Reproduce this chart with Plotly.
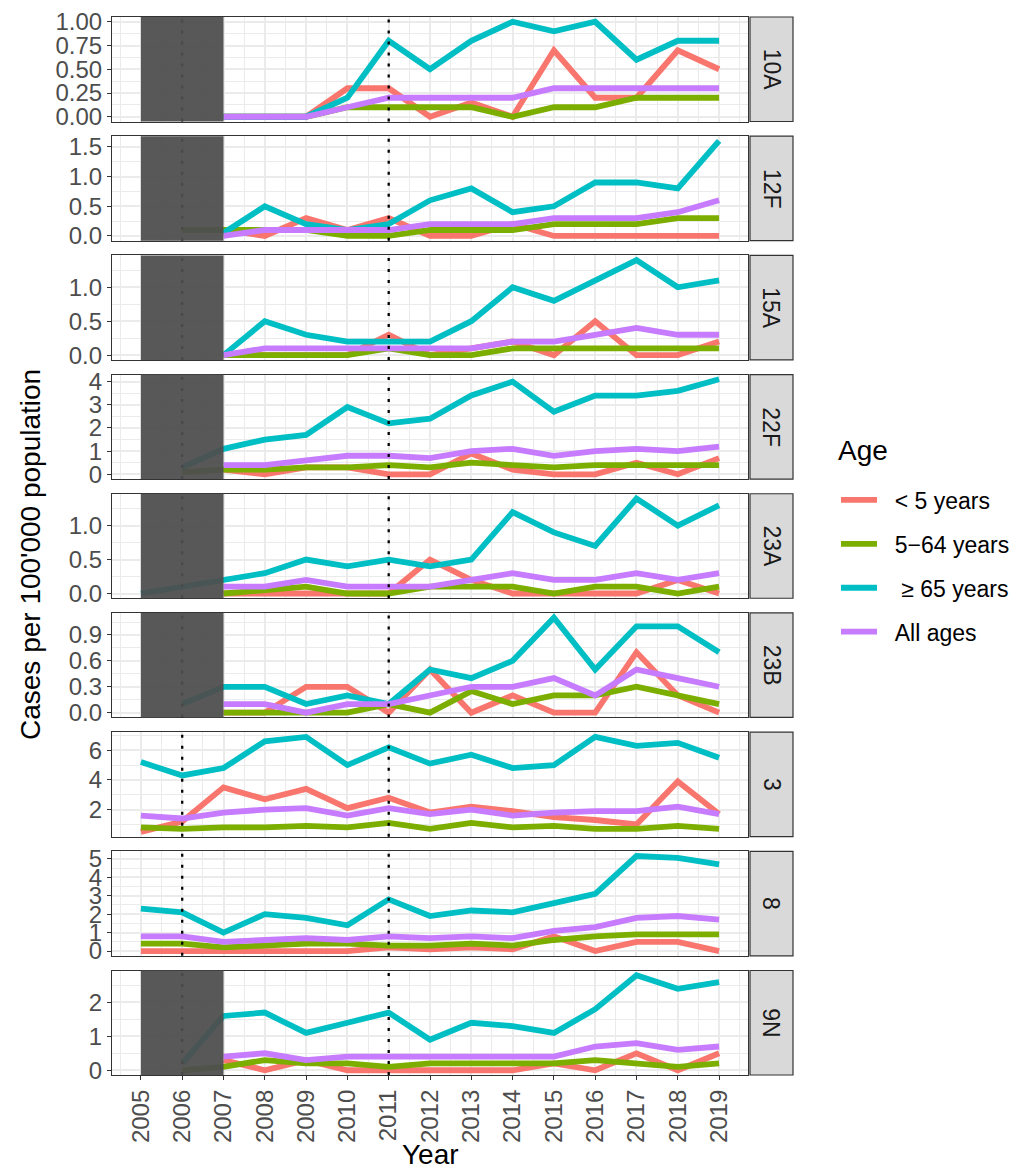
import plotly.graph_objects as go

years = list(range(2005, 2020))
N = None

serotypes = ["10A", "12F", "15A", "22F", "23A", "23B", "3", "8", "9N"]
age_groups = ["< 5 years", "5\u221264 years", " \u2265 65 years", "All ages"]
colors = ["#F8766D", "#7CAE00", "#00BFC4", "#C77CFF"]

# values per serotype, order: <5, 5-64, >=65, all ; years 2005..2019
s10A_u5  = [N, N, 0.0, 0.0, 0.0, 0.3, 0.3, 0.0, 0.15, 0.0, 0.7, 0.2, 0.2, 0.7, 0.5]
s10A_mid = [N, N, 0.0, 0.0, 0.0, 0.1, 0.1, 0.1, 0.1, 0.0, 0.1, 0.1, 0.2, 0.2, 0.2]
s10A_o65 = [N, N, 0.0, 0.0, 0.0, 0.2, 0.8, 0.5, 0.8, 1.0, 0.9, 1.0, 0.6, 0.8, 0.8]
s10A_all = [N, N, 0.0, 0.0, 0.0, 0.1, 0.2, 0.2, 0.2, 0.2, 0.3, 0.3, 0.3, 0.3, 0.3]

s12F_u5  = [N, N, 0.1, 0.0, 0.3, 0.1, 0.3, 0.0, 0.0, 0.2, 0.0, 0.0, 0.0, 0.0, 0.0]
s12F_mid = [N, 0.1, 0.1, 0.1, 0.1, 0.0, 0.0, 0.1, 0.1, 0.1, 0.2, 0.2, 0.2, 0.3, 0.3]
s12F_o65 = [N, N, 0.05, 0.5, 0.2, 0.1, 0.2, 0.6, 0.8, 0.4, 0.5, 0.9, 0.9, 0.8, 1.6]
s12F_all = [N, N, 0.0, 0.1, 0.1, 0.1, 0.1, 0.2, 0.2, 0.2, 0.3, 0.3, 0.3, 0.4, 0.6]

s15A_u5  = [N, N, 0.0, 0.0, 0.0, 0.0, 0.3, 0.0, 0.1, 0.2, 0.0, 0.5, 0.0, 0.0, 0.2]
s15A_mid = [N, N, 0.0, 0.0, 0.0, 0.0, 0.1, 0.0, 0.0, 0.1, 0.1, 0.1, 0.1, 0.1, 0.1]
s15A_o65 = [N, N, 0.0, 0.5, 0.3, 0.2, 0.2, 0.2, 0.5, 1.0, 0.8, 1.1, 1.4, 1.0, 1.1]
s15A_all = [N, N, 0.0, 0.1, 0.1, 0.1, 0.1, 0.1, 0.1, 0.2, 0.2, 0.3, 0.4, 0.3, 0.3]

s22F_u5  = [N, N, 0.2, 0.0, 0.3, 0.3, 0.0, 0.0, 0.9, 0.2, 0.0, 0.0, 0.5, 0.0, 0.7]
s22F_mid = [N, 0.1, 0.2, 0.2, 0.3, 0.3, 0.4, 0.3, 0.5, 0.4, 0.3, 0.4, 0.4, 0.4, 0.4]
s22F_o65 = [N, 0.3, 1.1, 1.5, 1.7, 2.9, 2.2, 2.4, 3.4, 4.0, 2.7, 3.4, 3.4, 3.6, 4.1]
s22F_all = [N, N, 0.4, 0.4, 0.6, 0.8, 0.8, 0.7, 1.0, 1.1, 0.8, 1.0, 1.1, 1.0, 1.2]

s23A_u5  = [N, N, 0.0, 0.0, 0.0, 0.0, 0.0, 0.5, 0.2, 0.0, 0.0, 0.0, 0.0, 0.2, 0.0]
s23A_mid = [N, N, 0.0, 0.05, 0.1, 0.0, 0.0, 0.1, 0.1, 0.1, 0.0, 0.1, 0.1, 0.0, 0.1]
s23A_o65 = [0.0, 0.1, 0.2, 0.3, 0.5, 0.4, 0.5, 0.4, 0.5, 1.2, 0.9, 0.7, 1.4, 1.0, 1.3]
s23A_all = [N, N, 0.1, 0.1, 0.2, 0.1, 0.1, 0.1, 0.2, 0.3, 0.2, 0.2, 0.3, 0.2, 0.3]

s23B_u5  = [N, N, 0.0, 0.0, 0.3, 0.3, 0.0, 0.5, 0.0, 0.2, 0.0, 0.0, 0.7, 0.2, 0.0]
s23B_mid = [N, N, 0.0, 0.0, 0.0, 0.0, 0.1, 0.0, 0.25, 0.1, 0.2, 0.2, 0.3, 0.2, 0.1]
s23B_o65 = [N, 0.1, 0.3, 0.3, 0.1, 0.2, 0.1, 0.5, 0.4, 0.6, 1.1, 0.5, 1.0, 1.0, 0.7]
s23B_all = [N, N, 0.1, 0.1, 0.0, 0.1, 0.1, 0.2, 0.3, 0.3, 0.4, 0.2, 0.5, 0.4, 0.3]

s3_u5  = [0.5, 1.2, 3.5, 2.7, 3.4, 2.1, 2.8, 1.8, 2.2, 1.9, 1.5, 1.3, 1.0, 3.9, 1.7]
s3_mid = [0.8, 0.7, 0.8, 0.8, 0.9, 0.8, 1.1, 0.7, 1.1, 0.8, 0.9, 0.7, 0.7, 0.9, 0.7]
s3_o65 = [5.2, 4.3, 4.8, 6.6, 6.9, 5.0, 6.2, 5.1, 5.7, 4.8, 5.0, 6.9, 6.3, 6.5, 5.5]
s3_all = [1.6, 1.4, 1.8, 2.0, 2.1, 1.6, 2.1, 1.7, 2.0, 1.6, 1.8, 1.9, 1.9, 2.2, 1.7]

s8_u5  = [0.0, 0.0, 0.0, 0.0, 0.0, 0.0, 0.2, 0.1, 0.2, 0.1, 0.8, 0.0, 0.5, 0.5, 0.0]
s8_mid = [0.4, 0.4, 0.2, 0.3, 0.4, 0.4, 0.3, 0.3, 0.4, 0.3, 0.6, 0.8, 0.9, 0.9, 0.9]
s8_o65 = [2.3, 2.1, 1.0, 2.0, 1.8, 1.4, 2.8, 1.9, 2.2, 2.1, 2.6, 3.1, 5.15, 5.05, 4.7]
s8_all = [0.8, 0.8, 0.5, 0.6, 0.7, 0.6, 0.8, 0.7, 0.8, 0.7, 1.1, 1.3, 1.8, 1.9, 1.7]

s9N_u5  = [N, N, 0.3, 0.0, 0.3, 0.0, 0.0, 0.0, 0.0, 0.0, 0.2, 0.0, 0.5, 0.0, 0.5]
s9N_mid = [N, 0.0, 0.1, 0.3, 0.2, 0.2, 0.1, 0.2, 0.2, 0.2, 0.2, 0.3, 0.2, 0.1, 0.2]
s9N_o65 = [N, 0.2, 1.6, 1.7, 1.1, 1.4, 1.7, 0.9, 1.4, 1.3, 1.1, 1.8, 2.8, 2.4, 2.6]
s9N_all = [N, N, 0.4, 0.5, 0.3, 0.4, 0.4, 0.4, 0.4, 0.4, 0.4, 0.7, 0.8, 0.6, 0.7]

data = {
    "10A": [s10A_u5, s10A_mid, s10A_o65, s10A_all],
    "12F": [s12F_u5, s12F_mid, s12F_o65, s12F_all],
    "15A": [s15A_u5, s15A_mid, s15A_o65, s15A_all],
    "22F": [s22F_u5, s22F_mid, s22F_o65, s22F_all],
    "23A": [s23A_u5, s23A_mid, s23A_o65, s23A_all],
    "23B": [s23B_u5, s23B_mid, s23B_o65, s23B_all],
    "3": [s3_u5, s3_mid, s3_o65, s3_all],
    "8": [s8_u5, s8_mid, s8_o65, s8_all],
    "9N": [s9N_u5, s9N_mid, s9N_o65, s9N_all],
}
shaded = {"10A", "12F", "15A", "22F", "23A", "23B", "9N"}
ytick_step = {"10A": 0.25, "12F": 0.5, "15A": 0.5, "22F": 1, "23A": 0.5,
              "23B": 0.3, "3": 2, "8": 1, "9N": 1}
ytick_fmt = {"10A": ".2f", "12F": ".1f", "15A": ".1f", "22F": "d", "23A": ".1f",
             "23B": ".1f", "3": "d", "8": "d", "9N": "d"}
vlines = [2006, 2011]

# ---- geometry (reference-page pixels; the page body adds an 8px offset) ----
OFF = 8
W, H = 1024 - OFF, 1169 - OFF
plot_l, plot_t, plot_b = 112, 17, 1075
panel_right = 748
strip_l, strip_r = 750, 793
ml, mt = plot_l - OFF, plot_t - OFF
mr = W - (strip_r - OFF)
mb = H - (plot_b - OFF)
pw = W - ml - mr
ph = H - mt - mb


def px_x(p):
    return (p - plot_l) / pw


def px_y(p):
    return 1 - (p - plot_t) / ph


xd = px_x(panel_right)
n = len(serotypes)
hp = 104.5
gap = (ph - n * hp) / (n - 1)

FONT = "Liberation Sans, Arial, Helvetica, sans-serif"
GRID = "#EBEBEB"
BORDER = "#333333"
TICKSIZE = 24

fig = go.Figure()
layout = dict(
    width=W, height=H,
    margin=dict(l=ml, r=mr, t=mt, b=mb, autoexpand=False),
    paper_bgcolor="white", plot_bgcolor="white",
    font=dict(family=FONT, color="#4D4D4D"),
    showlegend=True,
)
shapes = []
annotations = []
xr = [2004.3, 2019.7]

for i, s in enumerate(serotypes):
    k = "" if i == 0 else str(i + 1)
    top_px = plot_t + i * (hp + gap)
    bot_px = top_px + hp
    dom = [px_y(bot_px), px_y(top_px)]
    vals = [v for ser in data[s] for v in ser if v is not None]
    lo, hi = min(vals), max(vals)
    pad = 0.05 * (hi - lo)
    last = i == n - 1
    layout["xaxis" + k] = dict(
        domain=[0, xd], anchor="y" + k, range=xr, automargin=False,
        matches=None if i == 0 else "x",
        tickmode="linear", tick0=2005, dtick=1,
        showgrid=True, gridcolor=GRID, gridwidth=1.6,
        minor=dict(showgrid=True, gridcolor=GRID, gridwidth=0.9, dtick=0.5, tick0=2004.5),
        showline=True, mirror=True, linecolor=BORDER, linewidth=1.2,
        zeroline=False,
        showticklabels=last,
        ticks="outside" if last else "", ticklen=4, tickcolor=BORDER, tickwidth=1.2,
        tickangle=-90, tickfont=dict(size=TICKSIZE, color="#4D4D4D", family=FONT),
    )
    layout["yaxis" + k] = dict(
        domain=dom, anchor="x" + k, range=[lo - pad, hi + pad], automargin=False,
        tickmode="linear", tick0=0, dtick=ytick_step[s], tickformat=ytick_fmt[s],
        showgrid=True, gridcolor=GRID, gridwidth=1.6,
        minor=dict(showgrid=True, gridcolor=GRID, gridwidth=0.9, dtick=ytick_step[s] / 2, tick0=0),
        showline=True, mirror=True, linecolor=BORDER, linewidth=1.2,
        zeroline=False,
        ticks="outside", ticklen=4, tickcolor=BORDER, tickwidth=1.2,
        tickfont=dict(size=TICKSIZE, color="#4D4D4D", family=FONT),
    )
    for j, ser in enumerate(data[s]):
        fig.add_trace(go.Scatter(
            x=years, y=ser, mode="lines",
            line=dict(color=colors[j], width=5.8),
            name="\u00a0\u00a0" + age_groups[j], legendgroup=age_groups[j],
            showlegend=(i == 0), connectgaps=False,
            xaxis="x" + k, yaxis="y" + k, hoverinfo="skip",
        ))
    for v in vlines:
        shapes.append(dict(type="line", xref="x" + k, yref="y" + k + " domain",
                           x0=v, x1=v, y0=0, y1=1, layer="above",
                           line=dict(color="black", width=2.3, dash="3px,8px")))
    if s in shaded:
        shapes.append(dict(type="rect", xref="x" + k, yref="y" + k + " domain",
                           x0=2005, x1=2007, y0=0, y1=1, layer="above",
                           fillcolor="rgb(78,78,78)", opacity=0.94, line=dict(width=0)))
    # strip
    shapes.append(dict(type="rect", xref="paper", yref="y" + k + " domain",
                       x0=px_x(strip_l), x1=px_x(strip_r), y0=0, y1=1,
                       fillcolor="#D9D9D9", line=dict(color=BORDER, width=1.2), layer="above"))
    annotations.append(dict(xref="paper", yref="y" + k + " domain",
                            x=px_x((strip_l + strip_r) / 2), y=0.5,
                            text=s, showarrow=False, textangle=90,
                            font=dict(size=23, color="#1A1A1A", family=FONT),
                            xanchor="center", yanchor="middle"))

annotations.append(dict(xref="paper", yref="paper",
                        x=px_x((plot_l + panel_right) / 2), y=px_y(1154),
                        text="Year", showarrow=False,
                        font=dict(size=28, color="black", family=FONT),
                        xanchor="center", yanchor="middle"))
annotations.append(dict(xref="paper", yref="paper",
                        x=px_x(30), y=px_y(555),
                        text="Cases per 100'000 population", showarrow=False, textangle=-90,
                        font=dict(size=28, color="black", family=FONT),
                        xanchor="center", yanchor="middle"))
annotations.append(dict(xref="paper", yref="paper",
                        x=px_x(836), y=px_y(451),
                        text="Age", showarrow=False,
                        font=dict(size=28, color="black", family=FONT),
                        xanchor="left", yanchor="middle"))

layout["shapes"] = shapes
layout["annotations"] = annotations
layout["legend"] = dict(
    x=px_x(836), xanchor="left", y=px_y(566), yanchor="middle",
    font=dict(size=23, color="black", family=FONT),
    tracegroupgap=11, bgcolor="rgba(0,0,0,0)", itemwidth=36,
)
fig.update_layout(**layout)
fig.write_html("out.html")
